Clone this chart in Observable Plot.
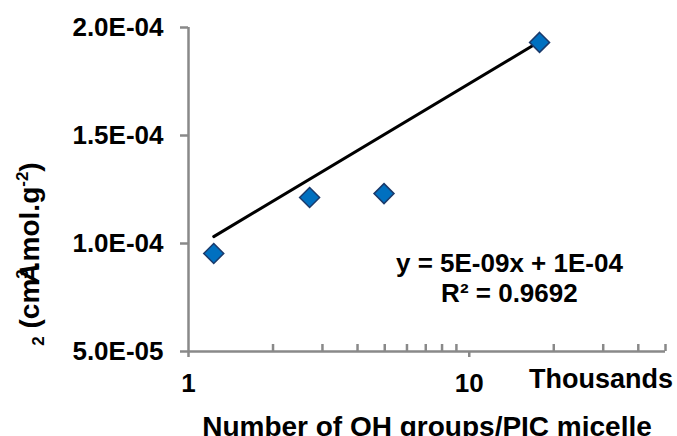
<!DOCTYPE html>
<html>
<head>
<meta charset="utf-8">
<script src="https://cdn.jsdelivr.net/npm/d3@7"></script>
<script src="https://cdn.jsdelivr.net/npm/@observablehq/plot@0.6"></script>
<style>
  html, body { margin: 0; padding: 0; background: #fff; overflow: hidden; }
  #chart svg { display: block; font-family: "Liberation Sans", Arial, sans-serif; }
  #chart svg text { font-family: "Liberation Sans", Arial, sans-serif; font-weight: bold; }
</style>
</head>
<body>
<div id="chart"></div>
<script>
// Data (x in thousands of OH groups per PIC micelle)
const ohThousands = [1.23, 2.70, 4.97, 17.8];
const a2Values = [9.54e-5, 1.213e-4, 1.231e-4, 1.931e-4];
// Trendline endpoints as drawn
const trendX = [1.23, 17.8];
const trendY = [1.032e-4, 1.935e-4];
// Ticks
const yTicks = [5e-5, 1e-4, 1.5e-4, 2e-4];
const xMajorTicks = [1, 10];
const xMinorTicks = [2, 3, 4, 5, 6, 7, 8, 9, 20, 30, 40, 50];
const eqLines = ["y = 5E-09x + 1E-04", "R² = 0.9692"];
const xTitle = "Number of OH groups/PIC micelle";
const xUnit = "Thousands";

const points = ohThousands.map((x, i) => ({x, y: a2Values[i]}));
const trend = trendX.map((x, i) => ({x, y: trendY[i]}));

function sciFmt(d) {
  const [m, e] = d.toExponential(1).split("e");
  const sign = e[0] === "-" ? "-" : "+";
  const digits = e.replace(/[-+]/, "").padStart(2, "0");
  return `${m}E${sign}${digits}`;
}

const axisGray = "#898989";
const FS = 26;

const chart = Plot.plot({
  width: 677,
  height: 436,
  marginLeft: 188,
  marginRight: 12,
  marginTop: 27,
  marginBottom: 85,
  x: {type: "log", domain: [1, 50]},
  y: {domain: [5e-5, 2e-4]},
  marks: [
    Plot.ruleY([5e-5], {stroke: axisGray, strokeWidth: 2.5}),
    Plot.ruleX([1], {stroke: axisGray, strokeWidth: 2.5}),
    Plot.axisY({ticks: yTicks, tickSize: 8, tickPadding: 17, stroke: axisGray, strokeWidth: 2.5, fill: "black", tickFormat: sciFmt, fontSize: FS, fontWeight: "bold", label: null}),
    Plot.axisX({ticks: xMajorTicks, tickSize: 6, tickPadding: 16, stroke: axisGray, strokeWidth: 2.5, fill: "black", tickFormat: d => String(d), fontSize: FS, fontWeight: "bold", label: null}),
    Plot.axisX({ticks: xMinorTicks, tickSize: -7, stroke: axisGray, strokeWidth: 2.5, tickFormat: () => "", label: null}),
    Plot.line(trend, {x: "x", y: "y", stroke: "black", strokeWidth: 3}),
    Plot.dot(points, {x: "x", y: "y", symbol: "diamond2", r: 9, fill: "#0070C0", stroke: "#1B3A6B", strokeWidth: 1.5}),
    Plot.text([eqLines[0]], {x: 13.9, y: 0.907e-4, text: d => d, fontSize: FS, fontWeight: "bold", fill: "black"}),
    Plot.text([eqLines[1]], {x: 13.9, y: 0.768e-4, text: d => d, fontSize: FS, fontWeight: "bold", fill: "black"}),
    Plot.text([xUnit], {frameAnchor: "bottom", dx: 174, dy: 36, text: d => d, fontSize: 27, fontWeight: "bold", fill: "black"}),
    Plot.text([xTitle], {frameAnchor: "bottom", dy: 84, text: d => d, fontSize: 28, fontWeight: "bold", fill: "black"})
  ]
});

document.getElementById("chart").appendChild(chart);

// y-axis title: slanted "A" (faux italic) + subscript and superscripts
const g = d3.select(chart).append("g")
  .attr("transform", "translate(39,173) rotate(-90)");
const startX = -102;
g.append("text")
  .attr("transform", `translate(${startX},0) skewX(-12)`)
  .attr("font-size", 28).attr("font-weight", "bold").attr("fill", "black")
  .text("A");
const yt = g.append("text")
  .attr("x", startX + 21).attr("y", 0)
  .attr("font-size", 28).attr("font-weight", "bold").attr("fill", "black");
yt.append("tspan").attr("font-size", 17).attr("dy", 5).text("2");
yt.append("tspan").attr("dy", -5).text(" (cm");
yt.append("tspan").attr("font-size", 17).attr("dy", -11).text("3");
yt.append("tspan").attr("dy", 11).text(".mol.g");
yt.append("tspan").attr("font-size", 17).attr("dy", -11).text("-2");
yt.append("tspan").attr("dy", 11).text(")");
</script>
</body>
</html>
